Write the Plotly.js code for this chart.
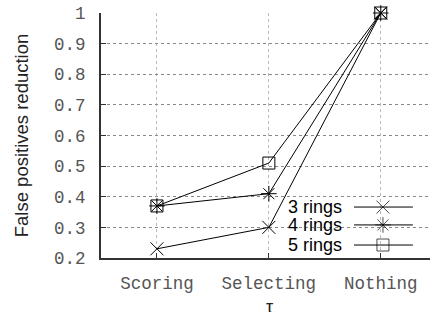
<!DOCTYPE html>
<html>
<head>
<meta charset="utf-8">
<script src="https://cdn.plot.ly/plotly-3.0.1.min.js"></script>
<style>html,body{margin:0;padding:0;background:#fff;}#chart{width:430px;height:312px;}</style>
</head>
<body>
<div id="chart"></div>
<script>
const categories = ["Scoring", "Selecting", "Nothing"];
const seriesNames = ["3 rings", "4 rings", "5 rings"];
const rings3 = [0.23, 0.30, 1.0];
const rings4 = [0.37, 0.41, 1.0];
const rings5 = [0.37, 0.51, 1.0];
const yTicks = [0.2, 0.3, 0.4, 0.5, 0.6, 0.7, 0.8, 0.9, 1];
const xTitle = "τ";

const symbols = ["x-thin-open", "asterisk-open", "square-open"];
const sizes = [13, 13, 12];
const values = [rings3, rings4, rings5];

const traces = [];
values.forEach((v, i) => {
  traces.push({
    x: categories, y: v, type: "scatter", mode: "lines+markers",
    name: seriesNames[i], showlegend: false, cliponaxis: false,
    line: {color: "#000", width: 1},
    marker: {symbol: symbols[i], size: sizes[i], color: "#000", line: {color: "#000", width: 1}}
  });
});
// custom legend keys (line with marker on the right of text)
const legendRows = [0.208, 0.135, 0.053];
values.forEach((v, i) => {
  traces.push({
    x: [0.769, 0.857, 0.948], y: [legendRows[i], legendRows[i], legendRows[i]],
    xaxis: "x2", yaxis: "y2", type: "scatter", mode: "lines+markers", showlegend: false,
    hoverinfo: "skip", cliponaxis: false,
    line: {color: "#000", width: 1},
    marker: {symbol: symbols[i], size: [0, sizes[i], 0], color: "#000", line: {color: "#000", width: 1}}
  });
});

const annotations = seriesNames.map((n, i) => ({
  xref: "paper", yref: "paper", x: 0.74, y: legendRows[i],
  xanchor: "right", yanchor: "middle", showarrow: false, text: n,
  font: {family: "Liberation Sans, Arial, sans-serif", size: 18, color: "#000"}
}));
annotations.push({
  xref: "paper", yref: "paper", x: 0.511, y: -0.2, xanchor: "center", yanchor: "middle",
  showarrow: false, text: xTitle,
  font: {family: "Liberation Sans, Arial, sans-serif", size: 18, color: "#222"}
});

const tickFont = {family: "Courier New, Liberation Mono, monospace", size: 17.5, color: "#555"};

const layout = {
  width: 430, height: 312,
  margin: {l: 101, r: 0, t: 13, b: 54},
  paper_bgcolor: "#fff", plot_bgcolor: "#fff",
  showlegend: false,
  xaxis: {
    type: "category", range: [-0.5, 2.44],
    showline: true, linecolor: "#333", linewidth: 2,
    ticks: "inside", ticklen: 5, tickcolor: "#333",
    showgrid: true, gridcolor: "#bbb", griddash: "dot", gridwidth: 1,
    tickfont: tickFont, ticklabelstandoff: 8,
    zeroline: false, fixedrange: true
  },
  yaxis: {
    range: [0.2, 1.0], tickvals: yTicks,
    showline: true, linecolor: "#333", linewidth: 2,
    ticks: "inside", ticklen: 5, tickcolor: "#333",
    showgrid: true, gridcolor: "#888", griddash: "dot", gridwidth: 1,
    tickfont: tickFont, ticklabelstandoff: 10,
    title: {text: "False positives reduction", font: {family: "Liberation Sans, Arial, sans-serif", size: 18.5, color: "#222"}, standoff: 21},
    zeroline: false, fixedrange: true
  },
  xaxis2: {overlaying: "x", range: [0, 1], visible: false, fixedrange: true},
  yaxis2: {overlaying: "y", range: [0, 1], visible: false, fixedrange: true},
  annotations: annotations
};

Plotly.newPlot("chart", traces, layout, {staticPlot: true, displayModeBar: false});
</script>
</body>
</html>
